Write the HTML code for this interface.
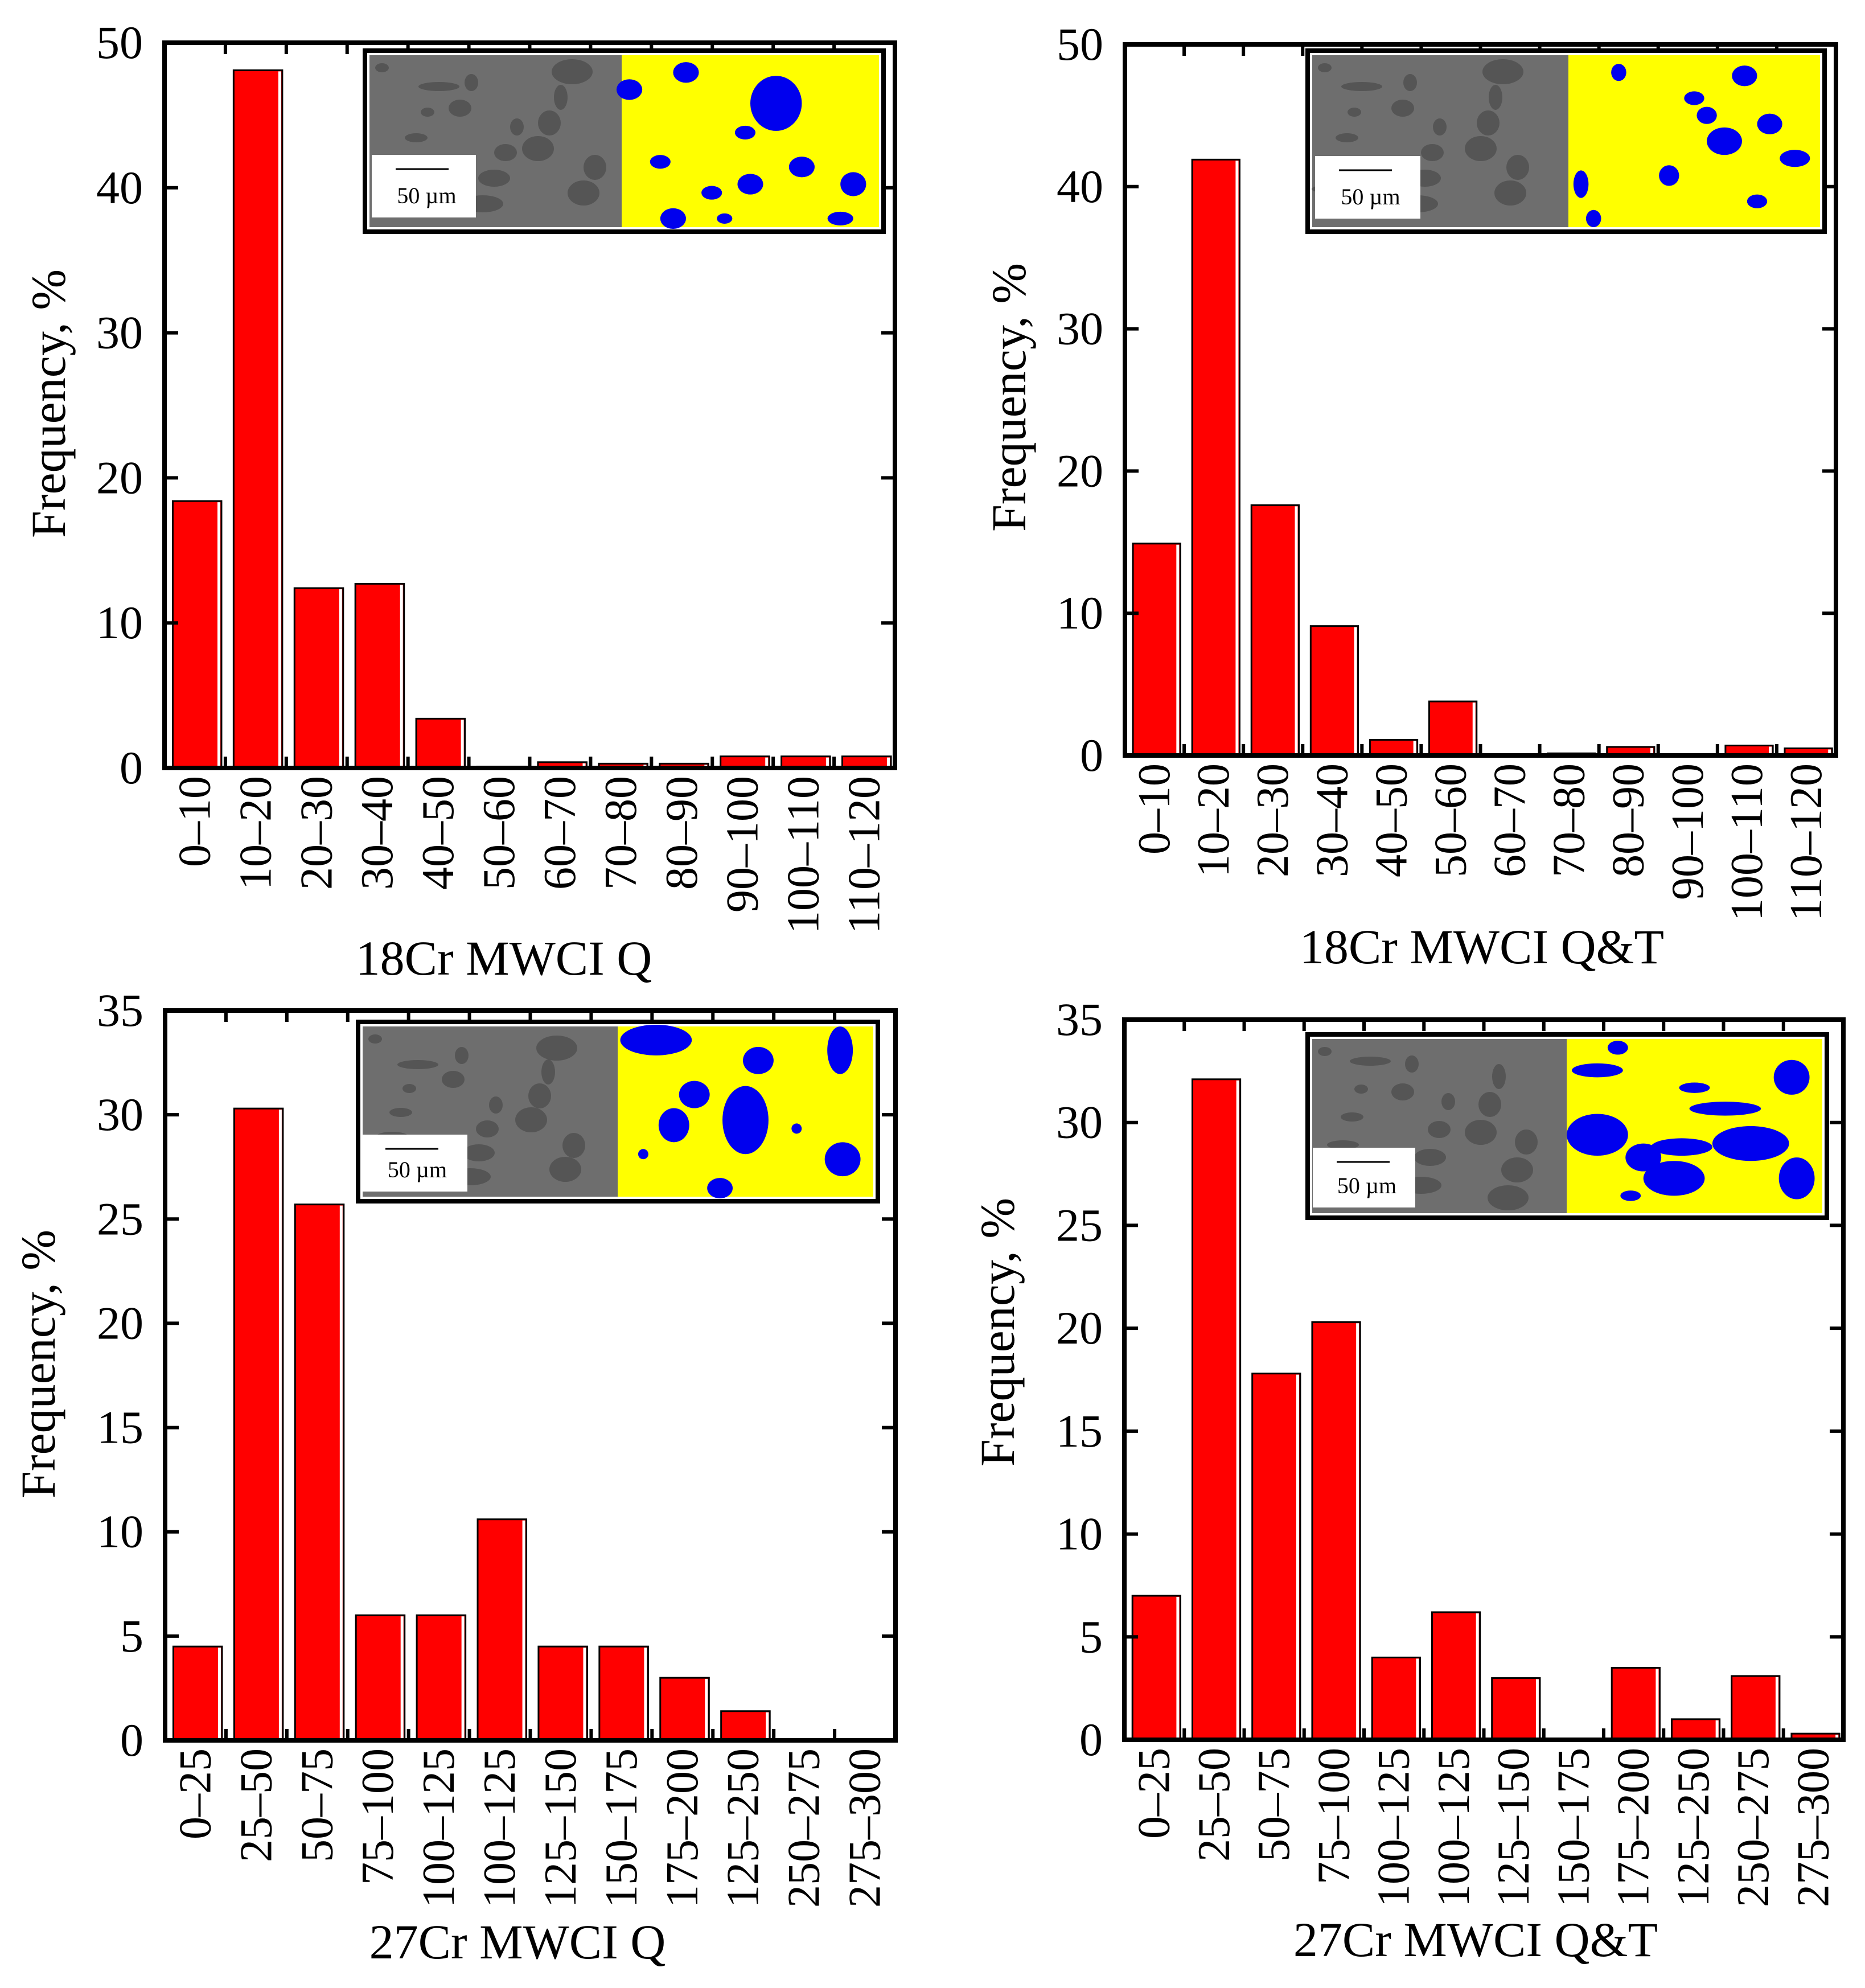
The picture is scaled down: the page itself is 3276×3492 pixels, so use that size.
<!DOCTYPE html>
<html><head><meta charset="utf-8">
<style>
html,body{margin:0;padding:0;background:#fff;}
svg{display:block;font-family:"Liberation Serif",serif;}
</style></head>
<body>
<svg id="fig" width="3276" height="3492" viewBox="0 0 3276 3492" xmlns="http://www.w3.org/2000/svg"></svg>
<script>
const cats18 = ["0–10","10–20","20–30","30–40","40–50","50–60","60–70","70–80","80–90","90–100","100–110","110–120"];
const cats27 = ["0–25","25–50","50–75","75–100","100–125","100–125","125–150","150–175","175–200","125–250","250–275","275–300"];
const vals18Q  = [18.4, 48.1, 12.4, 12.7, 3.4, 0.1, 0.4, 0.3, 0.3, 0.8, 0.8, 0.8];
const vals18QT = [14.9, 41.9, 17.6, 9.1, 1.1, 3.8, 0.05, 0.15, 0.6, 0.05, 0.7, 0.5];
const vals27Q  = [4.5, 30.3, 25.7, 6.0, 6.0, 10.6, 4.5, 4.5, 3.0, 1.4, 0, 0];
const vals27QT = [7.0, 32.1, 17.8, 20.3, 4.0, 6.2, 3.0, 0.05, 3.5, 1.0, 3.1, 0.3];
const ticks50 = [0,10,20,30,40,50];
const ticks35 = [0,5,10,15,20,25,30,35];
const titles = ["18Cr MWCI Q","18Cr MWCI Q&T","27Cr MWCI Q","27Cr MWCI Q&T"];

const NS="http://www.w3.org/2000/svg";
const svg=document.getElementById('fig');
function mk(tag,attrs,parent){const e=document.createElementNS(NS,tag);for(const k in attrs)e.setAttribute(k,attrs[k]);(parent||svg).appendChild(e);return e;}

const panels=[
 {L:289,R:1572,T:75,B:1349,max:50,ticks:ticks50,cats:cats18,vals:vals18Q,title:titles[0],tx:885,ty:1712,yx:85,yy:709,
  inset:{x:641,y:89,w:911,h:318,split:1092,sb:[653,272,183,110]}},
 {L:1976,R:3225,T:78,B:1327,max:50,ticks:ticks50,cats:cats18,vals:vals18QT,title:titles[1],tx:2603,ty:1692,yx:1772,yy:698,
  inset:{x:2297,y:89,w:908,h:318,split:2755,sb:[2310,274,185,110]}},
 {L:290,R:1573,T:1775,B:3057,max:35,ticks:ticks35,cats:cats27,vals:vals27Q,title:titles[2],tx:909,ty:3440,yx:67,yy:2396,
  inset:{x:629,y:1795,w:913,h:315,split:1085,sb:[635,1993,186,100]}},
 {L:1975,R:3238,T:1791,B:3056,max:35,ticks:ticks35,cats:cats27,vals:vals27QT,title:titles[3],tx:2592,ty:3436,yx:1752,yy:2340,
  inset:{x:2297,y:1817,w:912,h:322,split:2752,sb:[2306,2016,180,105]}}
];

const blobsQ18=[[0.03,0.2,0.05,0.06],[0.25,0.1,0.05,0.06],[0.35,0.8,0.04,0.04],[0.5,0.75,0.05,0.06],[0.6,0.28,0.1,0.16],[0.48,0.45,0.04,0.04],[0.7,0.65,0.05,0.06],[0.9,0.75,0.05,0.07],[0.85,0.95,0.05,0.04],[0.2,0.95,0.05,0.06],[0.4,0.95,0.03,0.03],[0.15,0.62,0.04,0.04]];
const blobsQT18=[[0.2,0.1,0.03,0.05],[0.7,0.12,0.05,0.06],[0.5,0.25,0.04,0.04],[0.8,0.4,0.05,0.06],[0.62,0.5,0.07,0.08],[0.9,0.6,0.06,0.05],[0.4,0.7,0.04,0.06],[0.75,0.85,0.04,0.04],[0.05,0.75,0.03,0.08],[0.1,0.95,0.03,0.05],[0.55,0.35,0.04,0.05]];
const blobsQ27=[[0.15,0.08,0.14,0.09],[0.55,0.2,0.06,0.08],[0.3,0.4,0.06,0.08],[0.5,0.55,0.09,0.2],[0.22,0.58,0.06,0.1],[0.87,0.14,0.05,0.14],[0.88,0.78,0.07,0.1],[0.4,0.95,0.05,0.06],[0.1,0.75,0.02,0.03],[0.7,0.6,0.02,0.03]];
const blobsQT27=[[0.2,0.05,0.04,0.04],[0.12,0.18,0.1,0.04],[0.5,0.28,0.06,0.03],[0.12,0.55,0.12,0.12],[0.88,0.22,0.07,0.1],[0.62,0.4,0.14,0.04],[0.3,0.68,0.07,0.08],[0.45,0.62,0.12,0.05],[0.72,0.6,0.15,0.1],[0.42,0.8,0.12,0.1],[0.9,0.8,0.07,0.12],[0.25,0.9,0.04,0.03]];
const blobSets=[blobsQ18,blobsQT18,blobsQ27,blobsQT27];

panels.forEach((p,pi)=>{
  const g=mk('g',{});
  
  
  const n=p.cats.length, cw=(p.R-p.L)/n;
  const yS=v=>p.B-(v/p.max)*(p.B-p.T);
  const xS=i=>p.L+i*cw;
  p.vals.forEach((v,i)=>{
    if(v<=0) return;
    const x=xS(i)+0.135*cw, w=0.8*cw, y=yS(v), h=p.B-y;
    const b=mk('rect',{x:x,y:y,width:w,height:Math.max(h,2),fill:'#ff0000',stroke:'#000','stroke-width':3},g);
    
    
    if(h>6){const s=mk('rect',{x:x+w-7,y:y+2,width:5,height:h-2,fill:'#fff'},g);
      
      }
  });
  const f=mk('rect',{x:p.L,y:p.T,width:p.R-p.L,height:p.B-p.T,fill:'none',stroke:'#000','stroke-width':8},g);
  
  
  for(let i=1;i<n;i++){
    const x=xS(i);
    mk('line',{x1:x,y1:p.B,x2:x,y2:p.B-20,stroke:'#000','stroke-width':6},g);
    mk('line',{x1:x,y1:p.T,x2:x,y2:p.T+20,stroke:'#000','stroke-width':6},g);
  }
  p.cats.forEach((c,i)=>{
    const cx=xS(i)+cw/2, y0=p.B+14;
    const t=mk('text',{x:0,y:0,'font-size':80,'text-anchor':'end','dominant-baseline':'central',transform:`translate(${cx},${y0}) rotate(-90)`},g);
    t.textContent=c;
    
    
  });
  p.ticks.forEach(v=>{
    const y=yS(v);
    if(v>0&&v<p.max){
      mk('line',{x1:p.L,y1:y,x2:p.L+24,y2:y,stroke:'#000','stroke-width':6},g);
      mk('line',{x1:p.R,y1:y,x2:p.R-24,y2:y,stroke:'#000','stroke-width':6},g);
    }
    const t=mk('text',{x:p.L-38,y:y+27,'font-size':82,'text-anchor':'end'},g);
    t.textContent=v;
    
    
  });
  const xt=mk('text',{x:p.tx,y:p.ty,'font-size':86,'text-anchor':'middle'},g);
  xt.textContent=p.title;
  
  
  const yt=mk('text',{x:0,y:0,'font-size':86,'text-anchor':'middle','dominant-baseline':'central',transform:`translate(${p.yx},${p.yy}) rotate(-90)`},g);
  yt.textContent='Frequency, %';
  
  
  const I=p.inset;
  const ig=mk('g',{},g);
  
  
  mk('rect',{x:I.x,y:I.y,width:I.w,height:I.h,fill:'#fff'},ig);
  const sem=mk('rect',{x:I.x+8,y:I.y+8,width:I.split-I.x-8,height:I.h-16,fill:'#6e6e6e'},ig);
  
  
  for(let k=0;k<18;k++){
    const ex=I.x+30+((k*137)%(I.split-I.x-60)), ey=I.y+30+((k*71)%(I.h-60));
    mk('ellipse',{cx:ex,cy:ey,rx:12+(k%4)*8,ry:8+(k%3)*7,fill:'#4a4a4a',opacity:0.7},ig);
  }
  const yl=mk('rect',{x:I.split,y:I.y+8,width:I.x+I.w-8-I.split,height:I.h-16,fill:'#ffff00'},ig);
  
  
  const yw=I.x+I.w-8-I.split, yh=I.h-16;
  blobSets[pi].forEach(b=>{
    mk('ellipse',{cx:I.split+b[0]*yw,cy:I.y+8+b[1]*yh,rx:b[2]*yw,ry:b[3]*yh,fill:'#0000ee'},ig);
  });
  mk('rect',{x:I.x,y:I.y,width:I.w,height:I.h,fill:'none',stroke:'#000','stroke-width':8},ig);
  const sb=I.sb;
  const sbox=mk('rect',{x:sb[0],y:sb[1],width:sb[2],height:sb[3],fill:'#fff'},ig);
  
  
  mk('line',{x1:sb[0]+42,y1:sb[1]+25,x2:sb[0]+135,y2:sb[1]+25,stroke:'#000','stroke-width':3},ig);
  const st=mk('text',{x:sb[0]+sb[2]/2+5,y:sb[1]+sb[3]-25,'font-size':40,'text-anchor':'middle'},ig);
  st.textContent='50 µm';
  
  
});
</script>
</body></html>
